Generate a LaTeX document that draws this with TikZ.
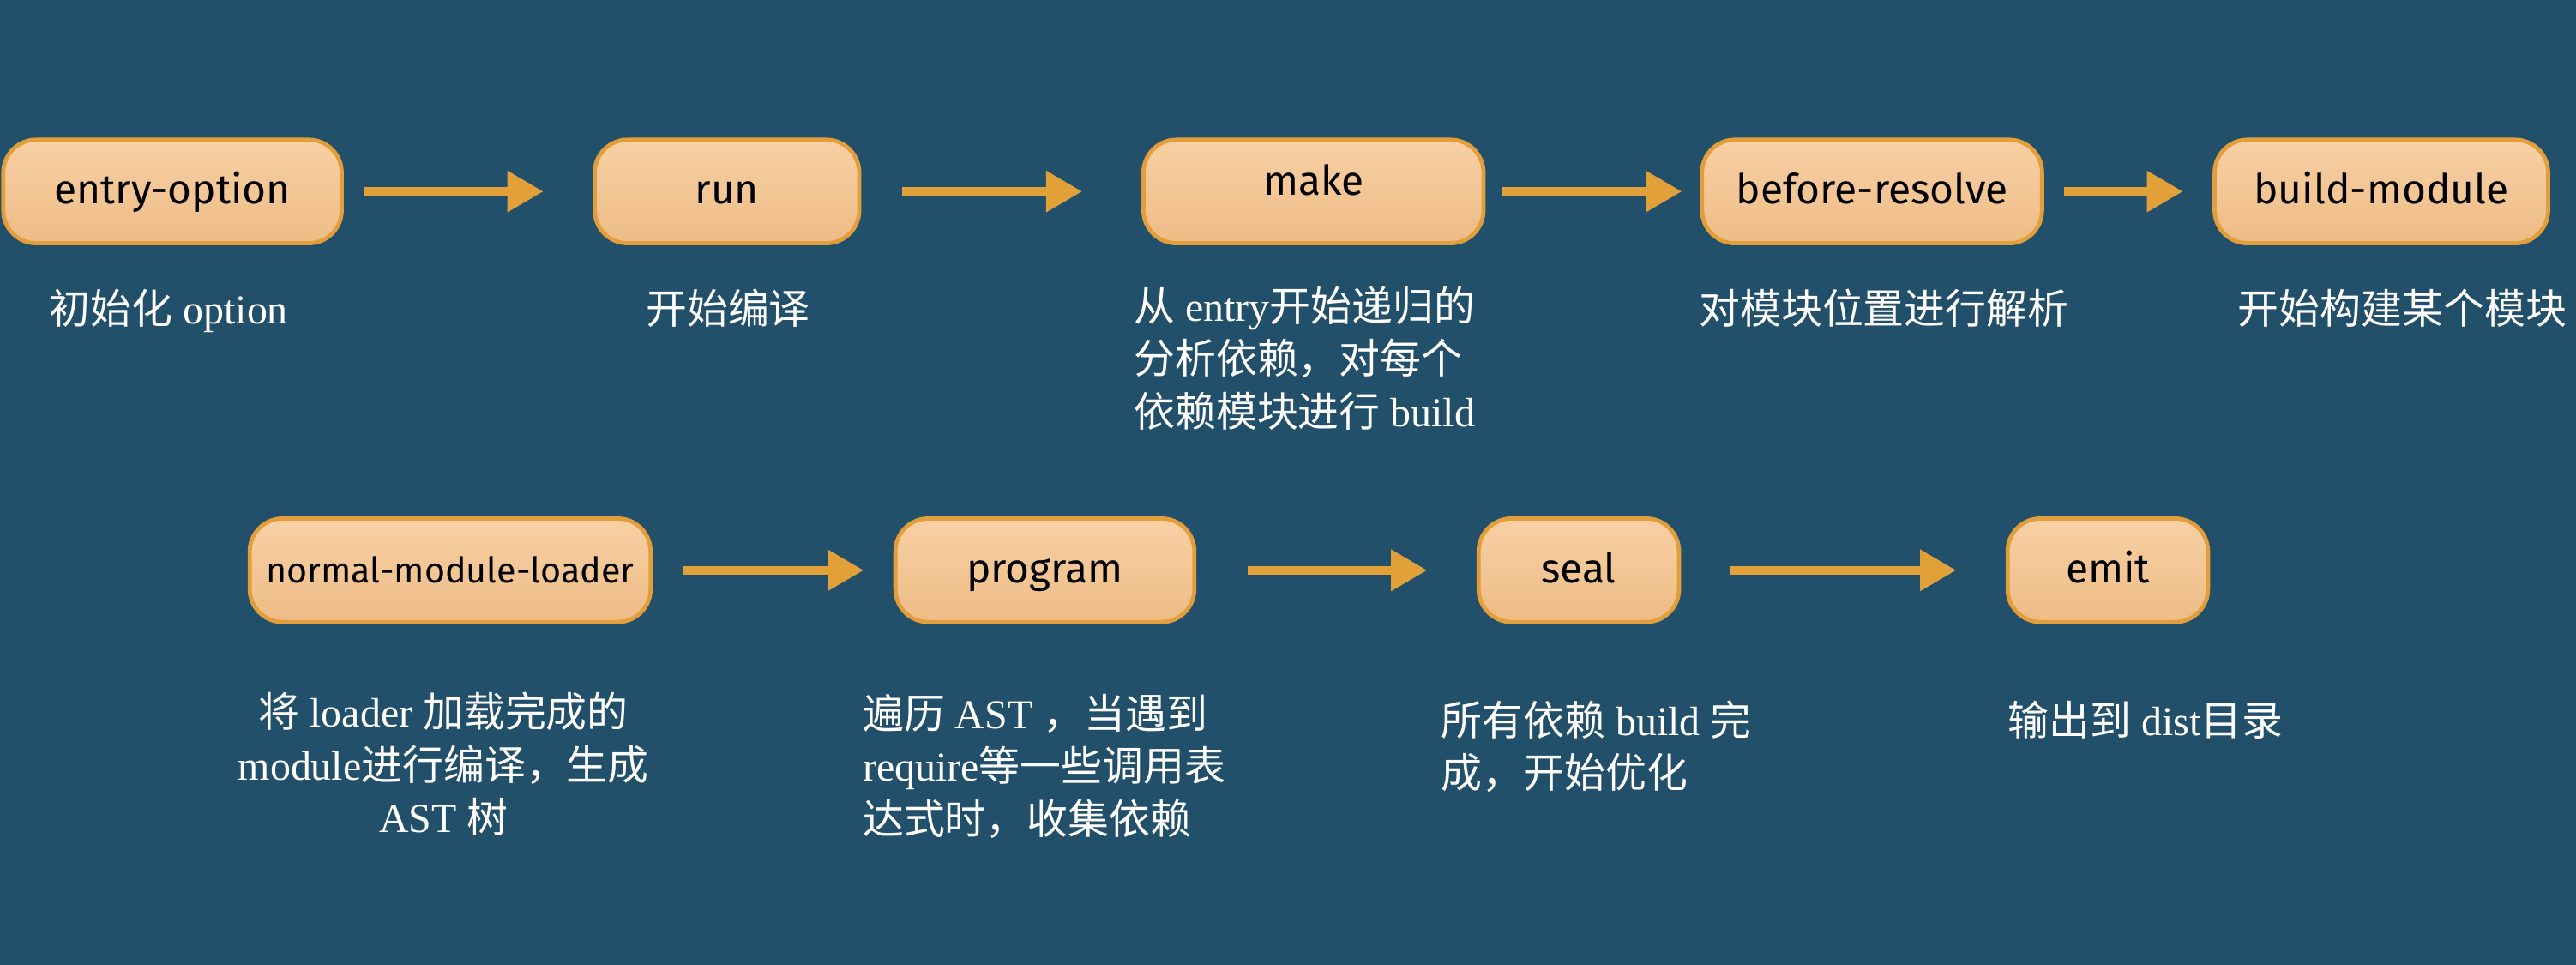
\documentclass[tikz,border=0pt]{standalone}
\usepackage{fontspec}
\setmainfont{Liberation Serif}
\newfontfamily\cjk{Noto Sans CJK SC}
\newfontfamily\boxfont{Fira Sans}
\usetikzlibrary{arrows.meta}
\definecolor{bgc}{RGB}{34,79,106}
\definecolor{boxtop}{RGB}{248,208,164}
\definecolor{boxbot}{RGB}{237,188,134}
\definecolor{boxborder}{RGB}{226,158,58}
\definecolor{arrowc}{RGB}{226,160,56}
\newcommand{\zh}[1]{{\cjk #1}}
\tikzset{
  stepbox/.style={rounded corners=20pt, draw=boxborder, line width=2.5pt,
    top color=boxtop, bottom color=boxbot, minimum height=63pt, inner sep=0pt,
    text height=21pt, text depth=6pt,
    font=\boxfont\fontsize{25}{28}\selectfont, text=black},
  desc/.style={text=white, font=\fontsize{25}{32}\selectfont, inner sep=0pt},
  flow/.style={draw=arrowc, line width=5pt, -{Triangle[length=22pt,width=24pt]}}
}
\begin{document}
\begin{tikzpicture}[x=1pt,y=-1pt]
\fill[bgc] (0,0) rectangle (1568,587);
\useasboundingbox (0,0) rectangle (1568,587);
% row 1
\node[stepbox, minimum width=206pt] (entry) at (105,116.5) {entry-option};
\node[stepbox, minimum width=161pt] (run) at (442.5,116.5) {run};
\node[stepbox, minimum width=207pt] (make) at (799.5,116.5) {\raisebox{5pt}{make}};
\node[stepbox, minimum width=207pt] (before) at (1139.5,116.5) {before-resolve};
\node[stepbox, minimum width=203pt] (build) at (1449.5,116.5) {build-module};
% row 2
\node[stepbox, minimum width=244pt, font=\boxfont\fontsize{21.5}{24}\selectfont] (loader) at (274,347) {normal-module-loader};
\node[stepbox, minimum width=182pt] (program) at (636,347) {program};
\node[stepbox, minimum width=122pt] (seal) at (961,347) {seal};
\node[stepbox, minimum width=122pt] (emit) at (1283,347) {emit};
% arrows
\draw[flow, shorten <=12pt, shorten >=30pt] (entry) -- (run);
\draw[flow, shorten <=25pt, shorten >=36pt] (run) -- (make);
\draw[flow, shorten <=10pt, shorten >=11pt] (make) -- (before);
\draw[flow, shorten <=12pt, shorten >=18pt] (before) -- (build);
\draw[flow, shorten <=18pt, shorten >=18pt] (loader) -- (program);
\draw[flow, shorten <=31pt, shorten >=30pt] (program) -- (seal);
\draw[flow, shorten <=30pt, shorten >=30pt] (seal) -- (emit);
% descriptions
\node[desc, anchor=base west] (d1) at (30,197) {\zh{初始化} option};
\node[desc, anchor=base west] (d2) at (393,197) {\zh{开始编译}};
\node[desc, anchor=base west, align=left] (d3) at (690,259.5)
  {\zh{从} entry\zh{开始递归的}\\\zh{分析依赖，对每个}\\\zh{依赖模块进行} build};
\node[desc, anchor=base west] (d4) at (1034,197) {\zh{对模块位置进行解析}};
\node[desc, anchor=base west] (d5) at (1362,197) {\zh{开始构建某个模块}};
\node[desc, anchor=base, align=center] (d6) at (270,506.5)
  {\zh{将} loader \zh{加载完成的}\\module\zh{进行编译，生成}\\AST \zh{树}};
\node[desc, anchor=base west, align=left] (d7) at (525,507.5)
  {\zh{遍历} AST \zh{，当遇到}\\require\zh{等一些调用表}\\\zh{达式时，收集依赖}};
\node[desc, anchor=base west, align=left] (d8) at (877,479.5)
  {\zh{所有依赖} build \zh{完}\\\zh{成，开始优化}};
\node[desc, anchor=base west] (d9) at (1222,447.5) {\zh{输出到} dist\zh{目录}};
\end{tikzpicture}
\end{document}
